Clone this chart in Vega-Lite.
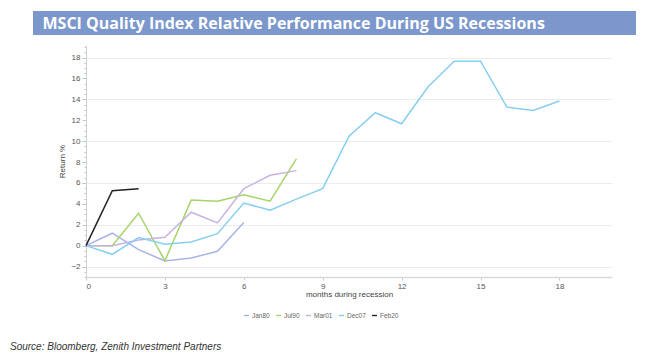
{
  "$schema": "https://vega.github.io/schema/vega-lite/v6.json",
  "background": "white",
  "padding": {"left": 10, "top": 11, "right": 16, "bottom": 2},
  "autosize": {"type": "pad"},
  "config": {"font": "Liberation Sans", "view": {"stroke": null}},
  "title": {
    "text": "Source: Bloomberg, Zenith Investment Partners",
    "orient": "bottom",
    "anchor": "start",
    "frame": "bounds",
    "dx": -23,
    "offset": 23,
    "fontSize": 10,
    "fontStyle": "italic",
    "fontWeight": "normal",
    "color": "#333333",
    "font": "Liberation Sans"
  },
  "spacing": 10,
  "resolve": {"legend": {"color": "independent", "strokeWidth": "independent"}},
  "vconcat": [
    {
      "width": 603,
      "height": 24,
      "data": {"values": [{"k": 0}]},
      "mark": {"type": "point", "opacity": 0},
      "encoding": {
        "x": {
          "field": "k",
          "type": "quantitative",
          "axis": {
            "orient": "top",
            "title": "MSCI Quality Index Relative Performance During US Recessions",
            "titleX": 9,
            "titleY": 12,
            "titleAlign": "left",
            "titleAnchor": "start",
            "titleBaseline": "middle",
            "titleColor": "white",
            "titleFont": "Open Sans",
            "titleFontSize": 16,
            "titleFontWeight": "bold",
            "domain": false,
            "ticks": false,
            "labels": false,
            "grid": false
          }
        }
      },
      "view": {"fill": "#7b97cc", "stroke": null}
    },
    {
      "spacing": 10,
      "resolve": {"legend": {"color": "independent", "strokeWidth": "independent"}},
      "hconcat": [
        {
          "width": 15,
          "height": 232,
          "data": {"values": [{"k": 0}]},
          "mark": {"type": "point", "opacity": 0},
          "encoding": {}
        },
        {
          "width": 526,
          "height": 232,
          "data": {
            "values": [
              {"series": "Jan80", "month": 0, "ret": 0},
              {"series": "Jan80", "month": 1, "ret": 1.19},
              {"series": "Jan80", "month": 2, "ret": -0.38},
              {"series": "Jan80", "month": 3, "ret": -1.47},
              {"series": "Jan80", "month": 4, "ret": -1.19},
              {"series": "Jan80", "month": 5, "ret": -0.54},
              {"series": "Jan80", "month": 6, "ret": 2.21},
              {"series": "Jul90", "month": 0, "ret": 0},
              {"series": "Jul90", "month": 1, "ret": 0},
              {"series": "Jul90", "month": 2, "ret": 3.1},
              {"series": "Jul90", "month": 3, "ret": -1.44},
              {"series": "Jul90", "month": 4, "ret": 4.36},
              {"series": "Jul90", "month": 5, "ret": 4.26},
              {"series": "Jul90", "month": 6, "ret": 4.87},
              {"series": "Jul90", "month": 7, "ret": 4.26},
              {"series": "Jul90", "month": 8, "ret": 8.3},
              {"series": "Mar01", "month": 0, "ret": 0},
              {"series": "Mar01", "month": 1, "ret": 0},
              {"series": "Mar01", "month": 2, "ret": 0.55},
              {"series": "Mar01", "month": 3, "ret": 0.8},
              {"series": "Mar01", "month": 4, "ret": 3.2},
              {"series": "Mar01", "month": 5, "ret": 2.18},
              {"series": "Mar01", "month": 6, "ret": 5.45},
              {"series": "Mar01", "month": 7, "ret": 6.73},
              {"series": "Mar01", "month": 8, "ret": 7.18},
              {"series": "Dec07", "month": 0, "ret": 0},
              {"series": "Dec07", "month": 1, "ret": -0.83},
              {"series": "Dec07", "month": 2, "ret": 0.77},
              {"series": "Dec07", "month": 3, "ret": 0.13},
              {"series": "Dec07", "month": 4, "ret": 0.35},
              {"series": "Dec07", "month": 5, "ret": 1.15},
              {"series": "Dec07", "month": 6, "ret": 4.07},
              {"series": "Dec07", "month": 7, "ret": 3.4},
              {"series": "Dec07", "month": 8, "ret": 4.45},
              {"series": "Dec07", "month": 9, "ret": 5.46},
              {"series": "Dec07", "month": 10, "ret": 10.48},
              {"series": "Dec07", "month": 11, "ret": 12.72},
              {"series": "Dec07", "month": 12, "ret": 11.66},
              {"series": "Dec07", "month": 13, "ret": 15.18},
              {"series": "Dec07", "month": 14, "ret": 17.65},
              {"series": "Dec07", "month": 15, "ret": 17.65},
              {"series": "Dec07", "month": 16, "ret": 13.26},
              {"series": "Dec07", "month": 17, "ret": 12.94},
              {"series": "Dec07", "month": 18, "ret": 13.84},
              {"series": "Feb20", "month": 0, "ret": 0},
              {"series": "Feb20", "month": 1, "ret": 5.26},
              {"series": "Feb20", "month": 2, "ret": 5.45}
            ]
          },
          "mark": {"type": "line", "strokeWidth": 1.5},
          "encoding": {
            "x": {
              "field": "month",
              "type": "quantitative",
              "scale": {"domain": [0, 20], "nice": false, "zero": false},
              "axis": {
                "values": [0, 3, 6, 9, 12, 15, 18],
                "title": "months during recession",
                "titleFontSize": 8,
                "titleFontWeight": "normal",
                "titleColor": "#444444",
                "titlePadding": 0,
                "grid": false,
                "domainColor": "#d9d9d9",
                "domainWidth": 1.5,
                "tickColor": "#cccccc",
                "tickSize": 3,
                "labelFontSize": 8,
                "labelColor": "#555555",
                "labelPadding": 2
              }
            },
            "y": {
              "field": "ret",
              "type": "quantitative",
              "scale": {"domain": [-3, 19.2], "nice": false, "zero": false},
              "axis": {
                "values": [-3, -2.5, -2, -1.5, -1, -0.5, 0, 0.5, 1, 1.5, 2, 2.5, 3, 3.5, 4, 4.5, 5, 5.5, 6, 6.5, 7, 7.5, 8, 8.5, 9, 9.5, 10, 10.5, 11, 11.5, 12, 12.5, 13, 13.5, 14, 14.5, 15, 15.5, 16, 16.5, 17, 17.5, 18, 18.5, 19],
                "labelExpr": "datum.value % 2 === 0 ? format(datum.value, 'd') : ''",
                "title": "Return %",
                "titleFontSize": 8,
                "titleFontWeight": "normal",
                "titleColor": "#444444",
                "titlePadding": 4,
                "grid": true,
                "gridColor": "#ececec",
                "gridOpacity": {"condition": {"test": "(datum.value + 2) % 4 === 0", "value": 1}, "value": 0},
                "domainColor": "#d0d0d0",
                "tickColor": "#c4c4c4",
                "tickSize": {"condition": {"test": "datum.value % 2 === 0", "value": 4}, "value": 2},
                "labelFontSize": 8,
                "labelColor": "#555555",
                "labelPadding": 2
              }
            },
            "color": {
              "field": "series",
              "type": "nominal",
              "sort": ["Jan80", "Jul90", "Mar01", "Dec07", "Feb20"],
              "scale": {
                "domain": ["Jan80", "Jul90", "Mar01", "Dec07", "Feb20"],
                "range": ["#a9b3e6", "#a6d46a", "#c7b3e3", "#86cff0", "#222222"]
              },
              "legend": {
                "orient": "none",
                "direction": "horizontal",
                "legendX": 157,
                "legendY": 267,
                "title": null,
                "padding": 0,
                "symbolType": "stroke",
                "symbolSize": 25,
                "symbolStrokeWidth": 1.5,
                "labelFontSize": 6.5,
                "labelColor": "#666666",
                "labelOffset": 2,
                "columnPadding": 3
              }
            },
            "strokeWidth": {
              "field": "series",
              "type": "nominal",
              "scale": {
                "domain": ["Jan80", "Jul90", "Mar01", "Dec07", "Feb20"],
                "range": [1.4, 1.4, 1.4, 1.6, 2.2]
              },
              "legend": null
            }
          }
        }
      ]
    }
  ]
}
